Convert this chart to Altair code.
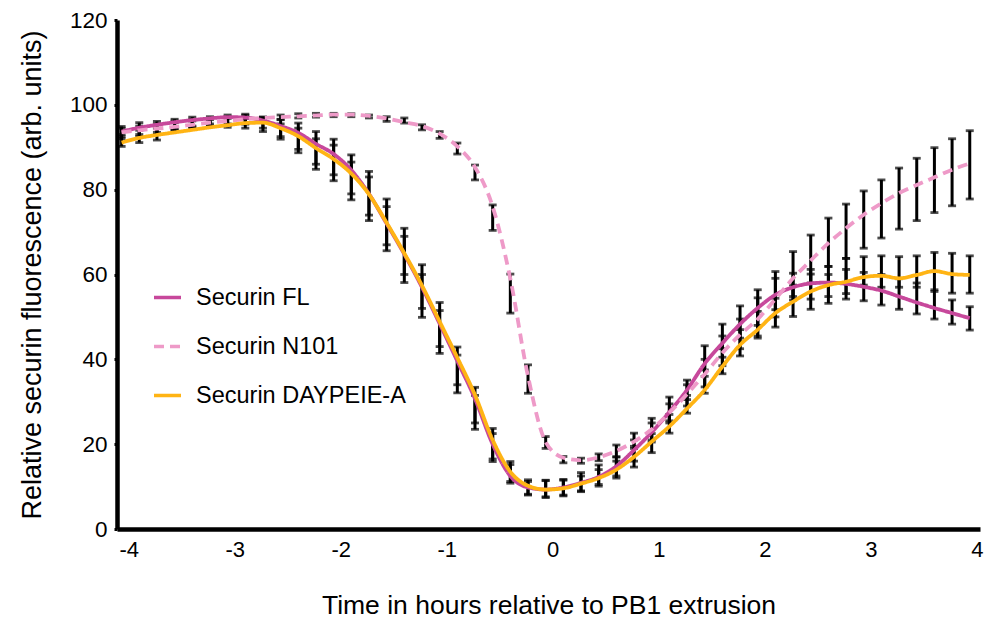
import altair as alt
import pandas as pd

# time points (minutes relative to PB1 extrusion)
minutes = [-244, -234, -224, -214, -204, -194, -184, -174, -164, -154,
           -144, -134, -124, -114, -104, -94, -84, -74, -64, -54,
           -44, -34, -24, -14, -4, 6, 16, 26, 36, 46,
           56, 66, 76, 86, 96, 106, 116, 126, 136, 146,
           156, 166, 176, 186, 196, 206, 216, 226, 236]

series_names = ["Securin FL", "Securin N101", "Securin DAYPEIE-A"]
series_colors = ["#C7489B", "#EE9AC8", "#FFB414"]

fl_line = [93.7, 94.6, 95.3, 95.9, 96.4, 96.8, 97.1, 97.0, 96.3, 95.0,
           93.4, 90.8, 88.4, 84.6, 79.0, 72.0, 64.8, 57.0, 48.4, 39.6,
           30.7, 20.0, 12.5, 9.8, 9.3, 9.8, 10.9, 12.3, 14.8, 18.6,
           22.8, 27.6, 32.8, 39.0, 43.8, 48.3, 52.1, 55.2, 57.0, 57.9,
           58.1, 57.8, 57.1, 56.2, 54.8, 53.4, 52.1, 50.9, 49.7]
n101_line = [93.5, 94.0, 94.4, 94.8, 95.3, 95.8, 96.2, 96.6, 96.9, 97.1,
             97.3, 97.5, 97.7, 97.7, 97.4, 96.8, 95.9, 95.0, 93.2, 90.2,
             85.3, 76.0, 59.0, 36.0, 20.5, 16.8, 16.2, 16.9, 18.4, 20.6,
             23.5, 27.4, 31.8, 36.5, 41.5, 45.8, 49.5, 54.2, 59.1, 63.3,
             67.4, 70.9, 74.1, 76.8, 79.2, 81.1, 82.9, 84.7, 86.2]
day_line = [91.1, 92.2, 92.9, 93.5, 94.1, 94.7, 95.2, 95.7, 95.8, 94.5,
            92.6, 89.8, 87.2, 83.8, 78.9, 72.2, 65.0, 57.4, 48.9, 40.4,
            31.6, 21.0, 13.5, 10.2, 9.3, 9.6, 10.7, 12.0, 14.0, 17.0,
            20.6, 24.2, 28.4, 32.8, 38.3, 43.4, 47.0, 50.9, 53.6, 56.0,
            57.5, 58.3, 59.4, 59.7, 59.1, 59.9, 60.8, 60.1, 59.9]

# error bar ends (low / high)
fl_lo = [92.5, 93.0, 93.5, 94.5, 95.0, 95.5, 95.5, 95.5, 94.5, 92.5,
         88.7, 84.8, 82.1, 77.6, 72.7, 65.6, 58.1, 49.9, 41.4, 32.1,
         23.5, 15.9, 10.8, 8.0, 7.4, 7.8, 9.0, 10.5, 12.5, 16.0,
         20.5, 25.5, 30.5, 36.0, 40.5, 45.0, 48.0, 51.7, 54.0, 54.2,
         54.8, 54.2, 53.8, 52.8, 51.8, 50.7, 49.5, 48.3, 46.9]
fl_hi = [94.9, 95.8, 96.1, 96.6, 97.1, 97.2, 97.6, 97.8, 97.1, 96.5,
         94.5, 92.0, 90.5, 86.5, 83.0, 76.0, 69.0, 60.0, 51.5, 41.0,
         31.5, 22.5, 15.2, 11.6, 11.5, 11.7, 13.3, 15.1, 17.0, 21.0,
         26.1, 31.1, 35.1, 43.2, 48.3, 52.6, 56.4, 59.1, 60.3, 61.2,
         61.9, 61.2, 60.5, 60.0, 59.0, 58.0, 56.4, 54.0, 52.4]
n101_lo = [92.0, 92.5, 93.0, 94.2, 94.8, 95.0, 95.2, 95.5, 96.0, 96.6,
           96.9, 97.1, 97.2, 97.2, 96.9, 96.1, 95.7, 94.1, 92.1, 88.4,
           82.3, 70.4, 50.9, 32.0, 19.0, 15.6, 15.5, 16.1, 17.0, 19.5,
           21.0, 25.0, 29.0, 33.5, 38.5, 42.5, 45.5, 50.0, 54.8, 58.0,
           61.9, 63.8, 66.2, 68.6, 70.7, 72.7, 74.6, 76.2, 77.8]
n101_hi = [94.5, 95.0, 95.5, 96.2, 96.6, 96.8, 97.2, 97.5, 97.1, 97.6,
           97.9, 98.0, 98.0, 97.9, 97.6, 97.2, 96.9, 95.3, 93.7, 91.0,
           85.8, 76.4, 60.1, 38.7, 21.8, 17.1, 16.7, 17.7, 19.8, 22.6,
           25.0, 29.5, 34.0, 40.0, 45.5, 49.5, 54.5, 60.7, 65.4, 69.3,
           73.3, 76.6, 79.7, 82.3, 85.1, 87.4, 89.9, 92.0, 93.9]
day_lo = [90.2, 91.1, 91.7, 93.9, 94.5, 94.9, 94.7, 94.5, 93.7, 91.9,
          89.5, 86.0, 83.5, 79.0, 74.0, 67.0, 60.0, 52.0, 43.0, 34.0,
          25.0, 16.5, 11.2, 8.2, 7.6, 8.0, 8.8, 10.1, 12.0, 14.6,
          18.0, 22.6, 27.3, 32.0, 36.6, 40.8, 45.0, 47.6, 50.1, 51.8,
          53.2, 55.5, 57.5, 57.0, 57.0, 57.0, 56.0, 55.6, 55.6]
day_hi = [93.0, 94.0, 94.5, 95.8, 96.2, 96.5, 96.8, 96.8, 96.5, 95.5,
          95.7, 93.7, 91.9, 88.2, 84.3, 77.8, 70.9, 62.3, 53.4, 42.9,
          33.4, 23.7, 15.9, 11.2, 11.4, 11.5, 12.5, 14.0, 16.0, 19.0,
          22.5, 27.0, 31.5, 37.5, 42.5, 47.0, 51.3, 54.4, 57.5, 60.1,
          60.0, 63.8, 64.2, 64.4, 64.2, 64.4, 65.2, 65.0, 64.4]

x_ticks = [-4, -3, -2, -1, 0, 1, 2, 3, 4]
y_ticks = [0, 20, 40, 60, 80, 100, 120]

rows = []
for name, line, lo, hi in [
    (series_names[0], fl_line, fl_lo, fl_hi),
    (series_names[1], n101_line, n101_lo, n101_hi),
    (series_names[2], day_line, day_lo, day_hi),
]:
    for m, v, a, b in zip(minutes, line, lo, hi):
        rows.append({"t": m / 60.0, "series": name, "value": v, "lo": a, "hi": b})
df = pd.DataFrame(rows)

FONT = "Liberation Sans, Arial, sans-serif"

xscale = alt.Scale(domain=[-4.11, 4.03], nice=False, zero=False)
yscale = alt.Scale(domain=[0, 120], nice=False)

x_axis = alt.Axis(values=x_ticks, title="Time in hours relative to PB1 extrusion",
                  labelExpr="'' + datum.value",
                  grid=False, ticks=False, domainWidth=4.5, domainColor="black",
                  labelFont=FONT, labelFontSize=22, labelColor="black", labelPadding=10,
                  titleFont=FONT, titleFontSize=26.5, titleFontWeight="normal",
                  titleColor="black", titlePadding=32, labelFlush=False)
y_axis = alt.Axis(values=y_ticks, title="Relative securin fluorescence (arb. units)",
                  labelExpr="'' + datum.value",
                  grid=False, tickSize=3, tickWidth=3, tickColor="black",
                  domainWidth=4.5, domainColor="black",
                  labelFont=FONT, labelFontSize=22.5, labelColor="black", labelPadding=7,
                  titleFont=FONT, titleFontSize=27, titleFontWeight="normal",
                  titleColor="black", titlePadding=23)

base = alt.Chart(df)

bars = base.mark_rule(color="black", strokeWidth=3).encode(
    x=alt.X("t:Q", scale=xscale, axis=x_axis),
    y=alt.Y("lo:Q", scale=yscale, axis=y_axis),
    y2="hi:Q",
)
caps_lo = base.mark_tick(color="black", size=8, thickness=2.8, orient="horizontal").encode(
    x=alt.X("t:Q", scale=xscale), y=alt.Y("lo:Q", scale=yscale))
caps_hi = base.mark_tick(color="black", size=8, thickness=2.8, orient="horizontal").encode(
    x=alt.X("t:Q", scale=xscale), y=alt.Y("hi:Q", scale=yscale))

legend = alt.Legend(title=None, orient="none", legendX=35, legendY=262,
                    symbolType="stroke", symbolSize=729, symbolStrokeWidth=3.5,
                    labelFont=FONT, labelFontSize=23.5, labelColor="black",
                    labelOffset=13, rowPadding=22, padding=0, labelLimit=400)

lines = base.mark_line(strokeWidth=3.8, interpolate="monotone").encode(
    x=alt.X("t:Q", scale=xscale),
    y=alt.Y("value:Q", scale=yscale),
    color=alt.Color("series:N", scale=alt.Scale(domain=series_names, range=series_colors),
                    legend=legend),
    strokeDash=alt.StrokeDash("series:N",
                              scale=alt.Scale(domain=series_names, range=[[1, 0], [10, 6], [1, 0]]),
                              legend=legend),
    detail="series:N",
)

chart = alt.layer(bars, caps_lo, caps_hi, lines).properties(
    width=863, height=509,
    autosize=alt.AutoSizeParams(type="none"),
    padding={"left": 117, "top": 20, "right": 6, "bottom": 96},
    background="white",
).configure_view(stroke=None)

chart.save("out.html", embed_options={"renderer": "svg", "actions": False})
